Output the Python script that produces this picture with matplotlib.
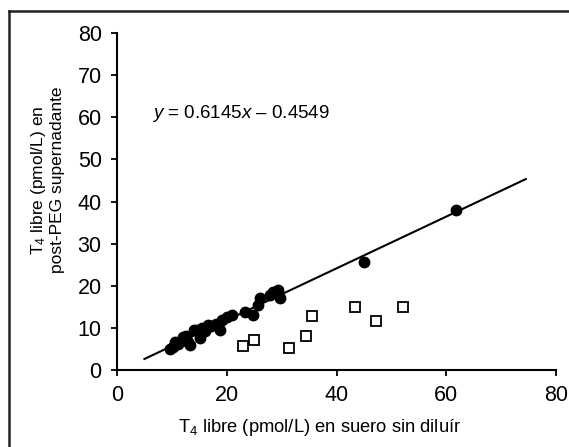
import matplotlib
matplotlib.use("Agg")
import matplotlib.pyplot as plt
import numpy as np
from matplotlib.lines import Line2D

plt.rcParams["font.family"] = ["Liberation Sans", "DejaVu Sans"]
plt.rcParams["mathtext.fontset"] = "custom"
plt.rcParams["mathtext.rm"] = "Liberation Sans"
plt.rcParams["mathtext.it"] = "Liberation Sans:italic"

# concordant samples (filled circles)
x_fill = [9.7, 10.2, 10.6, 11.2, 12.0, 12.5, 13.0, 13.3, 14.0, 14.6, 15.1, 15.5,
          16.0, 16.6, 17.2, 18.0, 18.8, 19.1, 20.0, 20.9, 23.3, 24.8, 25.7, 26.0,
          27.9, 28.4, 29.3, 29.7, 45.0, 61.8]
y_fill = [5.0, 5.5, 6.7, 6.2, 7.8, 8.0, 6.6, 5.9, 9.5, 9.5, 7.6, 10.0,
          9.2, 10.7, 10.5, 11.0, 9.5, 11.9, 12.5, 13.1, 13.8, 13.1, 15.4, 17.1,
          17.8, 18.5, 19.0, 17.1, 25.7, 38.0]

# discordant samples (open squares)
x_open = [22.9, 25.0, 31.3, 34.4, 35.5, 43.3, 47.2, 52.1]
y_open = [5.7, 7.1, 5.2, 8.1, 12.8, 15.0, 11.6, 15.0]

slope = 0.6145
intercept = -0.4549
line_x = [5.0, 74.5]

W, H = 569, 447
fig = plt.figure(figsize=(W / 100, H / 100), dpi=100)
ax = fig.add_axes([117 / W, 1 - 370 / H, (556 - 117) / W, (370 - 33) / H])

lx = np.array(line_x)
ax.plot(lx, slope * lx + intercept, color="black", lw=1.5, zorder=2)
ax.plot(x_fill, y_fill, "o", color="black", ms=7.5, zorder=3)
ax.plot(x_open, y_open, "s", mfc="white", mec="black", mew=1.3, ms=7, zorder=3)

ax.text(6.4, 61, r"$\it{y}$ = 0.6145$\it{x}$ – 0.4549", fontsize=13.5, va="center")

ax.set_xlim(0, 80)
ax.set_ylim(0, 80)
ax.set_xticks(range(0, 81, 20))
ax.set_yticks(range(0, 81, 10))
ax.spines["top"].set_visible(False)
ax.spines["right"].set_visible(False)
for s in ("left", "bottom"):
    ax.spines[s].set_linewidth(1.5)
ax.tick_params(direction="out", length=4, width=1.3, labelsize=15.5, pad=7)

fig.text(320 / W, 1 - 428 / H, r"T$_4$ libre (pmol/L) en suero sin diluír",
         fontsize=13.2, ha="center", va="center")
fig.text(47 / W, 1 - 180 / H, "T$_4$ libre (pmol/L) en\npost-PEG supernadante",
         fontsize=12.5, ha="center", va="center", rotation=90,
         multialignment="center", linespacing=1.1)

# figure frame (only left and top edges fall inside the image)
x0, y0 = 8.5 / W, 1 - 10.5 / H
fig.add_artist(Line2D([x0, x0], [-0.1, y0], transform=fig.transFigure,
                      color="#222222", lw=1.8, solid_capstyle="projecting"))
fig.add_artist(Line2D([x0, 1.1], [y0, y0], transform=fig.transFigure,
                      color="#222222", lw=1.8, solid_capstyle="projecting"))

fig.savefig("out.png", dpi=100)
